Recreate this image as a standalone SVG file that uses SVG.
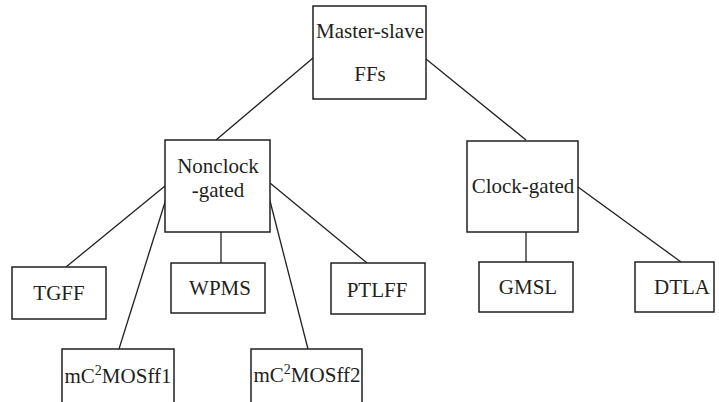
<svg xmlns="http://www.w3.org/2000/svg" width="719" height="402" viewBox="0 0 719 402">
<style>
.box{fill:#fff;stroke:#231f20;stroke-width:1.5}
.ln{stroke:#231f20;stroke-width:1.3;fill:none}
text{font-family:"Liberation Serif","DejaVu Serif",serif;font-size:21px;fill:#231f20;text-anchor:middle}
.sup{font-size:14px}
</style>
<rect width="719" height="402" fill="#fff"/>
<g id="connectors">
<line class="ln" x1="313" y1="58" x2="216" y2="140"/>
<line class="ln" x1="426" y1="59" x2="526" y2="140"/>
<line class="ln" x1="165" y1="186" x2="66" y2="267"/>
<line class="ln" x1="166" y1="199" x2="119" y2="349"/>
<line class="ln" x1="221" y1="232" x2="221" y2="263"/>
<line class="ln" x1="269" y1="197" x2="308" y2="349"/>
<line class="ln" x1="270" y1="183" x2="367" y2="263"/>
<line class="ln" x1="526" y1="232" x2="526" y2="262"/>
<line class="ln" x1="578" y1="187" x2="681" y2="262"/>
</g>
<g id="master">
<rect class="box" x="313" y="6" width="113" height="93"/>
<text x="370" y="38">Master-slave</text>
<text x="370" y="81">FFs</text>
</g>
<g id="nonclock">
<rect class="box" x="165" y="140" width="105" height="92"/>
<text x="218" y="173">Nonclock</text>
<text x="218" y="197">-gated</text>
</g>
<g id="clockgated">
<rect class="box" x="467" y="141" width="111" height="91"/>
<text x="523" y="193">Clock-gated</text>
</g>
<g id="tgff">
<rect class="box" x="12" y="267" width="94" height="52"/>
<text x="59" y="300">TGFF</text>
</g>
<g id="mc2mosff1">
<rect class="box" x="62" y="349" width="112" height="60"/>
<text x="118" y="383">mC<tspan class="sup" dy="-8">2</tspan><tspan dy="8">MOSff1</tspan></text>
</g>
<g id="wpms">
<rect class="box" x="171" y="263" width="94" height="50"/>
<text x="220" y="295">WPMS</text>
</g>
<g id="mc2mosff2">
<rect class="box" x="251" y="349" width="111" height="60"/>
<text x="307" y="382">mC<tspan class="sup" dy="-8">2</tspan><tspan dy="8">MOSff2</tspan></text>
</g>
<g id="ptlff">
<rect class="box" x="331" y="263" width="94" height="51"/>
<text x="377" y="297">PTLFF</text>
</g>
<g id="gmsl">
<rect class="box" x="479" y="262" width="94" height="50"/>
<text x="528" y="294">GMSL</text>
</g>
<g id="dtla">
<rect class="box" x="635" y="262" width="79" height="50"/>
<text x="682" y="294">DTLA</text>
</g>
</svg>
